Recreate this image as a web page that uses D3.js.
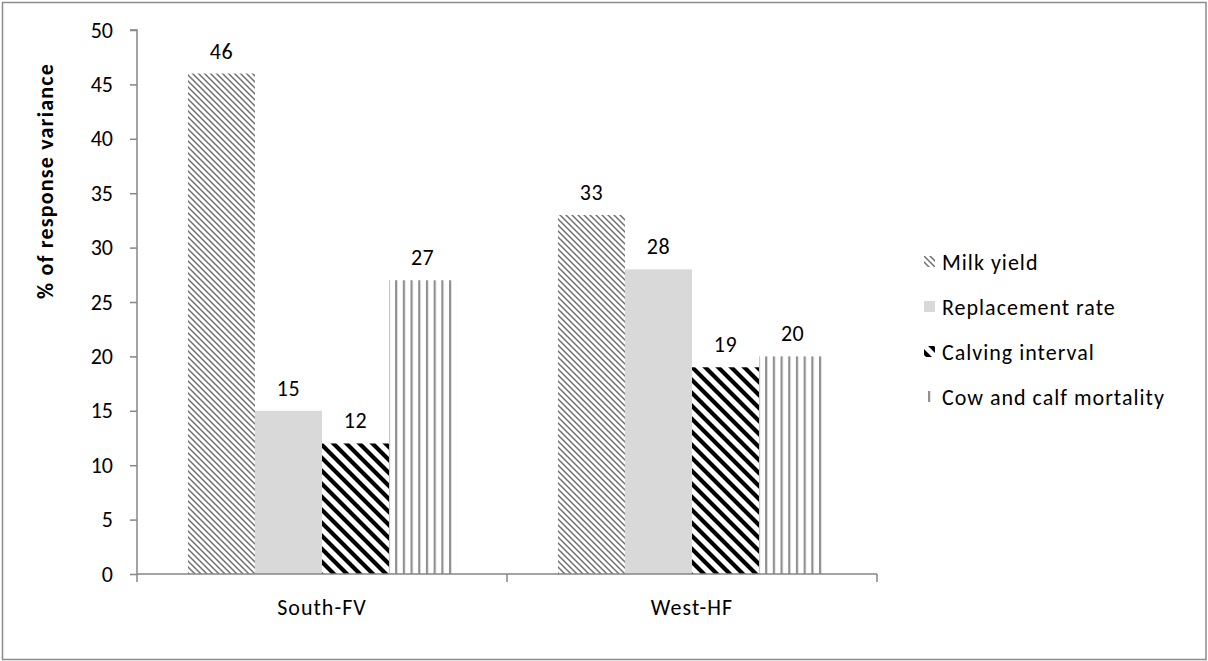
<!DOCTYPE html>
<html>
<head>
<meta charset="utf-8">
<script src="https://cdn.jsdelivr.net/npm/d3@7"></script>
<style>
  html, body { margin: 0; padding: 0; background: #fff; }
  svg text { font-family: Carlito, Lato, "Liberation Sans", sans-serif; fill: #000; }
</style>
</head>
<body>
<svg id="chart" width="1208" height="661"></svg>
<script>
// Share of response variance explained by each trait, per breed/region
const categories = ["South-FV", "West-HF"];
const series = ["Milk yield", "Replacement rate", "Calving interval", "Cow and calf mortality"];
const milkYield = [46, 33];
const replacementRate = [15, 28];
const calvingInterval = [12, 19];
const mortality = [27, 20];
const yTicks = [0, 5, 10, 15, 20, 25, 30, 35, 40, 45, 50];
const yTitle = "% of response variance";

const valuesBySeries = [milkYield, replacementRate, calvingInterval, mortality];

const svg = d3.select("#chart");
const W = 1208, H = 661;
const plot = { left: 137, right: 877, top: 30, bottom: 574 };
const axisColor = "#868686";
const fontFamily = "Carlito, Lato, 'Liberation Sans', sans-serif";
const fontSize = 22;

// outer frame
svg.append("rect")
  .attr("x", 2.5).attr("y", 2.5)
  .attr("width", W - 4.5).attr("height", H - 4)
  .attr("fill", "#fff").attr("stroke", "#8c8c8c").attr("stroke-width", 1.5);

// fill patterns
const defs = svg.append("defs");
const pMilk = defs.append("pattern").attr("id", "pat-milk")
  .attr("patternUnits", "userSpaceOnUse").attr("width", 6).attr("height", 6);
pMilk.append("rect").attr("width", 6).attr("height", 6).attr("fill", "#fff");
pMilk.append("path").attr("d", "M0,0L6,6M-1,5L1,7M5,-1L7,1")
  .attr("stroke", "#707070").attr("stroke-width", 1.5);

const pCalv = defs.append("pattern").attr("id", "pat-calv")
  .attr("patternUnits", "userSpaceOnUse").attr("width", 13).attr("height", 13);
pCalv.append("rect").attr("width", 13).attr("height", 13).attr("fill", "#fff");
pCalv.append("path").attr("d", "M0,0L13,13M-3,10L3,16M10,-3L16,3")
  .attr("stroke", "#000").attr("stroke-width", 4.2);

const pMort = defs.append("pattern").attr("id", "pat-mort")
  .attr("patternUnits", "userSpaceOnUse").attr("width", 7.7).attr("height", 10)
  .attr("x", 4);
pMort.append("rect").attr("width", 7.7).attr("height", 10).attr("fill", "#fff");
pMort.append("rect").attr("x", 0).attr("width", 2.2).attr("height", 10).attr("fill", "#8f8f8f");

const fills = ["url(#pat-milk)", "#d9d9d9", "url(#pat-calv)", "url(#pat-mort)"];

// scales
const x0 = d3.scaleBand().domain(categories).range([plot.left, plot.right]).padding(0);
const x1 = d3.scaleBand().domain(series).range([0, x0.bandwidth()])
  .paddingInner(0).paddingOuter(0.76);
const y = d3.scaleLinear().domain([0, 50]).range([plot.bottom, plot.top]);

// bars
const rows = (c, ci) => series.map((s, si) => ({ s, si, v: valuesBySeries[si][ci] }));
const groups = svg.append("g").selectAll("g")
  .data(categories).join("g")
  .attr("transform", d => `translate(${x0(d)},0)`);

groups.selectAll("rect")
  .data(rows)
  .join("rect")
  .attr("x", d => x1(d.s))
  .attr("y", d => y(d.v))
  .attr("width", x1.bandwidth())
  .attr("height", d => y(0) - y(d.v))
  .attr("fill", d => fills[d.si]);

// value labels
groups.selectAll("text.val")
  .data(rows)
  .join("text").attr("class", "val")
  .attr("x", d => x1(d.s) + x1.bandwidth() / 2)
  .attr("y", d => y(d.v) - 15)
  .attr("text-anchor", "middle")
  .attr("font-size", fontSize)
  .attr("letter-spacing", 0.5)
  .text(d => d.v);

// y axis
const yAxis = svg.append("g").attr("transform", `translate(${plot.left},0)`)
  .call(d3.axisLeft(y).tickValues(yTicks).tickSize(7).tickPadding(17));
yAxis.select(".domain").attr("stroke", axisColor).attr("stroke-width", 1.5)
  .attr("d", `M-7,${y(50)}H0V${y(0)}`);
yAxis.selectAll(".tick line").attr("stroke", axisColor).attr("stroke-width", 1.5);
yAxis.selectAll(".tick text").attr("font-size", fontSize)
  .style("font-family", fontFamily).attr("fill", "#000");

// x axis
const xAxis = svg.append("g").attr("transform", `translate(0,${plot.bottom})`)
  .call(d3.axisBottom(x0).tickSize(0).tickPadding(25));
xAxis.select(".domain").attr("stroke", axisColor).attr("stroke-width", 1.5)
  .attr("d", `M${plot.left},0H${plot.right}`);
xAxis.selectAll(".tick text").attr("font-size", fontSize)
  .attr("letter-spacing", 1)
  .style("font-family", fontFamily).attr("fill", "#000");
// category boundary ticks
const bounds = categories.map(c => x0(c)).concat([x0(categories[categories.length - 1]) + x0.bandwidth()]);
xAxis.selectAll("line.bound").data(bounds).join("line").attr("class", "bound")
  .attr("x1", d => d).attr("x2", d => d).attr("y1", 0).attr("y2", 8)
  .attr("stroke", axisColor).attr("stroke-width", 1.5);

// y axis title
svg.append("text")
  .attr("transform", `translate(53,181) rotate(-90)`)
  .attr("text-anchor", "middle")
  .attr("font-size", fontSize).attr("font-weight", "bold")
  .attr("letter-spacing", 1.2)
  .text(yTitle);

// legend
const legend = svg.append("g").attr("transform", "translate(924,262)");
const items = legend.selectAll("g").data(series).join("g")
  .attr("transform", (d, i) => `translate(0,${i * 45})`);
items.append("rect")
  .attr("x", 0).attr("y", -6).attr("width", 11).attr("height", 11)
  .attr("fill", (d, i) => fills[i]);
items.append("text")
  .attr("x", 18).attr("y", 7.5)
  .attr("font-size", fontSize)
  .attr("letter-spacing", 1)
  .text(d => d);
</script>
</body>
</html>
